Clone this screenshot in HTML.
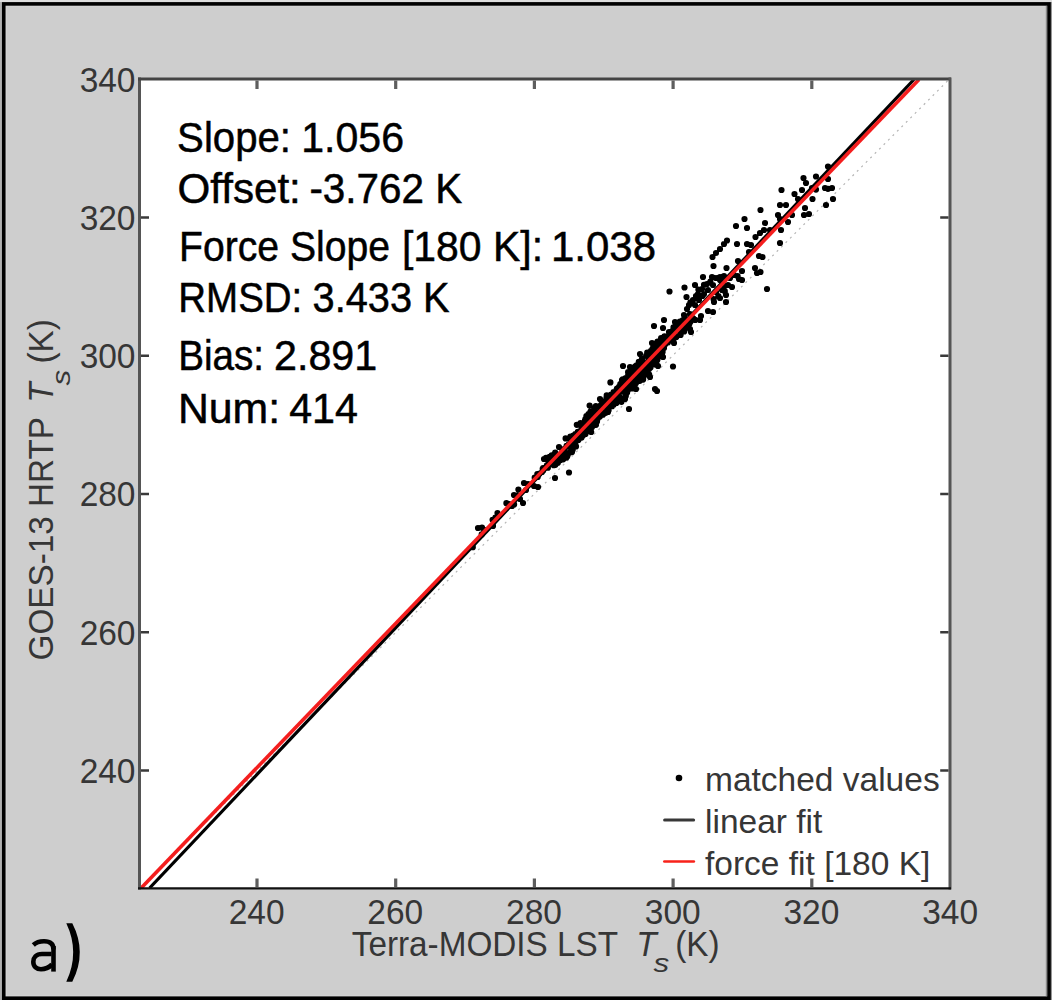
<!DOCTYPE html>
<html><head><meta charset="utf-8"><style>
html,body{margin:0;padding:0;background:#cecece;}
body{width:1052px;height:1000px;overflow:hidden;}
svg{display:block;}
text{font-family:"Liberation Sans",sans-serif;}
</style></head><body>
<svg width="1052" height="1000" viewBox="0 0 1052 1000">
<!-- page background -->
<rect x="0" y="0" width="1052" height="1000" fill="#dddddd"/>
<rect x="0" y="2" width="2" height="998" fill="#b0b0b0"/>
<rect x="1050.5" y="2" width="1.5" height="998" fill="#969696"/>
<rect x="2" y="2" width="1048.5" height="1000" fill="#cecece"/>
<rect x="6" y="6" width="1040" height="990" fill="none" stroke="#d8d8d8" stroke-width="1"/>
<!-- outer frame -->
<rect x="3.75" y="3.9" width="1045.3" height="994.3" fill="none" stroke="#000" stroke-width="3.6"/>
<line x1="1046.3" y1="6" x2="1046.3" y2="996" stroke="#777" stroke-width="1"/>
<!-- plot area -->
<rect x="139.5" y="79" width="810.5" height="809.5" fill="#fff"/>
<!-- 1:1 dotted -->
<line x1="139.5" y1="888.5" x2="949.5" y2="79" stroke="#b4b4b4" stroke-width="1.2" stroke-dasharray="2 4.3"/>
<!-- lines -->

<g fill="#000"><path d="M474.9 528.0a3.10 3.10 0 1 0 6.20 0a3.10 3.10 0 1 0 -6.20 0zM478.9 527.5a3.10 3.10 0 1 0 6.20 0a3.10 3.10 0 1 0 -6.20 0zM489.9 526.0a3.10 3.10 0 1 0 6.20 0a3.10 3.10 0 1 0 -6.20 0zM494.4 513.0a3.10 3.10 0 1 0 6.20 0a3.10 3.10 0 1 0 -6.20 0zM505.9 504.0a3.10 3.10 0 1 0 6.20 0a3.10 3.10 0 1 0 -6.20 0zM508.9 506.0a3.10 3.10 0 1 0 6.20 0a3.10 3.10 0 1 0 -6.20 0zM510.9 495.0a3.10 3.10 0 1 0 6.20 0a3.10 3.10 0 1 0 -6.20 0zM519.9 503.0a3.10 3.10 0 1 0 6.20 0a3.10 3.10 0 1 0 -6.20 0zM516.9 499.0a3.10 3.10 0 1 0 6.20 0a3.10 3.10 0 1 0 -6.20 0zM520.9 483.0a3.10 3.10 0 1 0 6.20 0a3.10 3.10 0 1 0 -6.20 0zM524.9 484.0a3.10 3.10 0 1 0 6.20 0a3.10 3.10 0 1 0 -6.20 0zM522.9 490.0a3.10 3.10 0 1 0 6.20 0a3.10 3.10 0 1 0 -6.20 0zM534.9 487.0a3.10 3.10 0 1 0 6.20 0a3.10 3.10 0 1 0 -6.20 0zM530.9 486.0a3.10 3.10 0 1 0 6.20 0a3.10 3.10 0 1 0 -6.20 0zM551.9 478.0a3.10 3.10 0 1 0 6.20 0a3.10 3.10 0 1 0 -6.20 0zM540.9 459.0a3.10 3.10 0 1 0 6.20 0a3.10 3.10 0 1 0 -6.20 0zM544.9 460.0a3.10 3.10 0 1 0 6.20 0a3.10 3.10 0 1 0 -6.20 0zM538.9 472.0a3.10 3.10 0 1 0 6.20 0a3.10 3.10 0 1 0 -6.20 0zM555.9 447.0a3.10 3.10 0 1 0 6.20 0a3.10 3.10 0 1 0 -6.20 0zM555.9 459.0a3.10 3.10 0 1 0 6.20 0a3.10 3.10 0 1 0 -6.20 0zM469.7 547.2a3.10 3.10 0 1 0 6.20 0a3.10 3.10 0 1 0 -6.20 0zM503.3 503.2a3.10 3.10 0 1 0 6.20 0a3.10 3.10 0 1 0 -6.20 0zM515.3 489.6a3.10 3.10 0 1 0 6.20 0a3.10 3.10 0 1 0 -6.20 0zM546.5 457.6a3.10 3.10 0 1 0 6.20 0a3.10 3.10 0 1 0 -6.20 0zM562.5 438.4a3.10 3.10 0 1 0 6.20 0a3.10 3.10 0 1 0 -6.20 0zM573.7 424.8a3.10 3.10 0 1 0 6.20 0a3.10 3.10 0 1 0 -6.20 0zM563.3 457.6a3.10 3.10 0 1 0 6.20 0a3.10 3.10 0 1 0 -6.20 0zM568.9 452.0a3.10 3.10 0 1 0 6.20 0a3.10 3.10 0 1 0 -6.20 0zM572.9 446.4a3.10 3.10 0 1 0 6.20 0a3.10 3.10 0 1 0 -6.20 0zM575.3 440.0a3.10 3.10 0 1 0 6.20 0a3.10 3.10 0 1 0 -6.20 0zM565.9 472.5a3.10 3.10 0 1 0 6.20 0a3.10 3.10 0 1 0 -6.20 0zM586.5 405.6a3.10 3.10 0 1 0 6.20 0a3.10 3.10 0 1 0 -6.20 0zM583.3 416.0a3.10 3.10 0 1 0 6.20 0a3.10 3.10 0 1 0 -6.20 0zM607.3 382.4a3.10 3.10 0 1 0 6.20 0a3.10 3.10 0 1 0 -6.20 0zM604.9 412.0a3.10 3.10 0 1 0 6.20 0a3.10 3.10 0 1 0 -6.20 0zM592.9 424.8a3.10 3.10 0 1 0 6.20 0a3.10 3.10 0 1 0 -6.20 0zM588.1 432.0a3.10 3.10 0 1 0 6.20 0a3.10 3.10 0 1 0 -6.20 0zM578.5 437.6a3.10 3.10 0 1 0 6.20 0a3.10 3.10 0 1 0 -6.20 0zM650.9 326.0a3.10 3.10 0 1 0 6.20 0a3.10 3.10 0 1 0 -6.20 0zM648.9 343.0a3.10 3.10 0 1 0 6.20 0a3.10 3.10 0 1 0 -6.20 0zM636.9 354.0a3.10 3.10 0 1 0 6.20 0a3.10 3.10 0 1 0 -6.20 0zM619.9 366.0a3.10 3.10 0 1 0 6.20 0a3.10 3.10 0 1 0 -6.20 0zM626.9 367.0a3.10 3.10 0 1 0 6.20 0a3.10 3.10 0 1 0 -6.20 0zM618.9 380.0a3.10 3.10 0 1 0 6.20 0a3.10 3.10 0 1 0 -6.20 0zM596.9 399.0a3.10 3.10 0 1 0 6.20 0a3.10 3.10 0 1 0 -6.20 0zM670.9 343.0a3.10 3.10 0 1 0 6.20 0a3.10 3.10 0 1 0 -6.20 0zM659.9 357.0a3.10 3.10 0 1 0 6.20 0a3.10 3.10 0 1 0 -6.20 0zM654.9 366.0a3.10 3.10 0 1 0 6.20 0a3.10 3.10 0 1 0 -6.20 0zM646.9 377.0a3.10 3.10 0 1 0 6.20 0a3.10 3.10 0 1 0 -6.20 0zM632.9 389.0a3.10 3.10 0 1 0 6.20 0a3.10 3.10 0 1 0 -6.20 0zM621.9 399.0a3.10 3.10 0 1 0 6.20 0a3.10 3.10 0 1 0 -6.20 0zM669.9 366.5a3.10 3.10 0 1 0 6.20 0a3.10 3.10 0 1 0 -6.20 0zM651.9 389.0a3.10 3.10 0 1 0 6.20 0a3.10 3.10 0 1 0 -6.20 0zM653.9 391.0a3.10 3.10 0 1 0 6.20 0a3.10 3.10 0 1 0 -6.20 0zM625.9 409.0a3.10 3.10 0 1 0 6.20 0a3.10 3.10 0 1 0 -6.20 0zM666.4 291.5a3.10 3.10 0 1 0 6.20 0a3.10 3.10 0 1 0 -6.20 0zM681.4 287.5a3.10 3.10 0 1 0 6.20 0a3.10 3.10 0 1 0 -6.20 0zM683.4 297.0a3.10 3.10 0 1 0 6.20 0a3.10 3.10 0 1 0 -6.20 0zM691.9 285.0a3.10 3.10 0 1 0 6.20 0a3.10 3.10 0 1 0 -6.20 0zM699.9 277.0a3.10 3.10 0 1 0 6.20 0a3.10 3.10 0 1 0 -6.20 0zM708.9 277.0a3.10 3.10 0 1 0 6.20 0a3.10 3.10 0 1 0 -6.20 0zM712.9 278.0a3.10 3.10 0 1 0 6.20 0a3.10 3.10 0 1 0 -6.20 0zM716.9 277.0a3.10 3.10 0 1 0 6.20 0a3.10 3.10 0 1 0 -6.20 0zM720.9 276.0a3.10 3.10 0 1 0 6.20 0a3.10 3.10 0 1 0 -6.20 0zM703.9 284.0a3.10 3.10 0 1 0 6.20 0a3.10 3.10 0 1 0 -6.20 0zM709.9 285.0a3.10 3.10 0 1 0 6.20 0a3.10 3.10 0 1 0 -6.20 0zM698.9 289.0a3.10 3.10 0 1 0 6.20 0a3.10 3.10 0 1 0 -6.20 0zM704.9 290.0a3.10 3.10 0 1 0 6.20 0a3.10 3.10 0 1 0 -6.20 0zM694.9 294.0a3.10 3.10 0 1 0 6.20 0a3.10 3.10 0 1 0 -6.20 0zM700.9 294.0a3.10 3.10 0 1 0 6.20 0a3.10 3.10 0 1 0 -6.20 0zM689.9 300.0a3.10 3.10 0 1 0 6.20 0a3.10 3.10 0 1 0 -6.20 0zM695.9 300.0a3.10 3.10 0 1 0 6.20 0a3.10 3.10 0 1 0 -6.20 0zM685.9 305.0a3.10 3.10 0 1 0 6.20 0a3.10 3.10 0 1 0 -6.20 0zM691.9 305.0a3.10 3.10 0 1 0 6.20 0a3.10 3.10 0 1 0 -6.20 0zM683.9 309.0a3.10 3.10 0 1 0 6.20 0a3.10 3.10 0 1 0 -6.20 0zM680.9 315.0a3.10 3.10 0 1 0 6.20 0a3.10 3.10 0 1 0 -6.20 0zM686.9 314.0a3.10 3.10 0 1 0 6.20 0a3.10 3.10 0 1 0 -6.20 0zM679.9 320.0a3.10 3.10 0 1 0 6.20 0a3.10 3.10 0 1 0 -6.20 0zM684.9 324.0a3.10 3.10 0 1 0 6.20 0a3.10 3.10 0 1 0 -6.20 0zM686.9 329.0a3.10 3.10 0 1 0 6.20 0a3.10 3.10 0 1 0 -6.20 0zM687.9 332.0a3.10 3.10 0 1 0 6.20 0a3.10 3.10 0 1 0 -6.20 0zM677.9 332.0a3.10 3.10 0 1 0 6.20 0a3.10 3.10 0 1 0 -6.20 0zM672.9 336.0a3.10 3.10 0 1 0 6.20 0a3.10 3.10 0 1 0 -6.20 0zM671.9 322.0a3.10 3.10 0 1 0 6.20 0a3.10 3.10 0 1 0 -6.20 0zM660.9 320.0a3.10 3.10 0 1 0 6.20 0a3.10 3.10 0 1 0 -6.20 0zM659.9 328.0a3.10 3.10 0 1 0 6.20 0a3.10 3.10 0 1 0 -6.20 0zM665.9 332.0a3.10 3.10 0 1 0 6.20 0a3.10 3.10 0 1 0 -6.20 0zM660.9 348.0a3.10 3.10 0 1 0 6.20 0a3.10 3.10 0 1 0 -6.20 0zM712.9 292.0a3.10 3.10 0 1 0 6.20 0a3.10 3.10 0 1 0 -6.20 0zM718.9 290.0a3.10 3.10 0 1 0 6.20 0a3.10 3.10 0 1 0 -6.20 0zM724.9 285.0a3.10 3.10 0 1 0 6.20 0a3.10 3.10 0 1 0 -6.20 0zM728.9 287.0a3.10 3.10 0 1 0 6.20 0a3.10 3.10 0 1 0 -6.20 0zM735.9 279.0a3.10 3.10 0 1 0 6.20 0a3.10 3.10 0 1 0 -6.20 0zM738.9 280.0a3.10 3.10 0 1 0 6.20 0a3.10 3.10 0 1 0 -6.20 0zM726.9 278.0a3.10 3.10 0 1 0 6.20 0a3.10 3.10 0 1 0 -6.20 0zM730.9 275.0a3.10 3.10 0 1 0 6.20 0a3.10 3.10 0 1 0 -6.20 0zM710.9 302.0a3.10 3.10 0 1 0 6.20 0a3.10 3.10 0 1 0 -6.20 0zM716.9 298.0a3.10 3.10 0 1 0 6.20 0a3.10 3.10 0 1 0 -6.20 0zM722.9 302.0a3.10 3.10 0 1 0 6.20 0a3.10 3.10 0 1 0 -6.20 0zM722.9 295.0a3.10 3.10 0 1 0 6.20 0a3.10 3.10 0 1 0 -6.20 0zM704.9 311.0a3.10 3.10 0 1 0 6.20 0a3.10 3.10 0 1 0 -6.20 0zM709.9 312.0a3.10 3.10 0 1 0 6.20 0a3.10 3.10 0 1 0 -6.20 0zM697.9 316.0a3.10 3.10 0 1 0 6.20 0a3.10 3.10 0 1 0 -6.20 0zM696.9 320.0a3.10 3.10 0 1 0 6.20 0a3.10 3.10 0 1 0 -6.20 0zM732.9 226.0a3.10 3.10 0 1 0 6.20 0a3.10 3.10 0 1 0 -6.20 0zM723.9 240.5a3.10 3.10 0 1 0 6.20 0a3.10 3.10 0 1 0 -6.20 0zM720.9 244.0a3.10 3.10 0 1 0 6.20 0a3.10 3.10 0 1 0 -6.20 0zM716.9 249.0a3.10 3.10 0 1 0 6.20 0a3.10 3.10 0 1 0 -6.20 0zM712.9 253.0a3.10 3.10 0 1 0 6.20 0a3.10 3.10 0 1 0 -6.20 0zM709.4 257.0a3.10 3.10 0 1 0 6.20 0a3.10 3.10 0 1 0 -6.20 0zM733.9 244.0a3.10 3.10 0 1 0 6.20 0a3.10 3.10 0 1 0 -6.20 0zM745.9 252.0a3.10 3.10 0 1 0 6.20 0a3.10 3.10 0 1 0 -6.20 0zM755.9 256.0a3.10 3.10 0 1 0 6.20 0a3.10 3.10 0 1 0 -6.20 0zM734.9 261.0a3.10 3.10 0 1 0 6.20 0a3.10 3.10 0 1 0 -6.20 0zM710.4 266.0a3.10 3.10 0 1 0 6.20 0a3.10 3.10 0 1 0 -6.20 0zM723.4 268.0a3.10 3.10 0 1 0 6.20 0a3.10 3.10 0 1 0 -6.20 0zM738.9 271.0a3.10 3.10 0 1 0 6.20 0a3.10 3.10 0 1 0 -6.20 0zM751.9 268.0a3.10 3.10 0 1 0 6.20 0a3.10 3.10 0 1 0 -6.20 0zM753.9 273.0a3.10 3.10 0 1 0 6.20 0a3.10 3.10 0 1 0 -6.20 0zM759.4 257.0a3.10 3.10 0 1 0 6.20 0a3.10 3.10 0 1 0 -6.20 0zM757.4 272.0a3.10 3.10 0 1 0 6.20 0a3.10 3.10 0 1 0 -6.20 0zM763.9 289.0a3.10 3.10 0 1 0 6.20 0a3.10 3.10 0 1 0 -6.20 0zM778.4 190.0a3.10 3.10 0 1 0 6.20 0a3.10 3.10 0 1 0 -6.20 0zM757.4 210.0a3.10 3.10 0 1 0 6.20 0a3.10 3.10 0 1 0 -6.20 0zM741.4 219.0a3.10 3.10 0 1 0 6.20 0a3.10 3.10 0 1 0 -6.20 0zM743.9 228.0a3.10 3.10 0 1 0 6.20 0a3.10 3.10 0 1 0 -6.20 0zM752.4 237.0a3.10 3.10 0 1 0 6.20 0a3.10 3.10 0 1 0 -6.20 0zM743.9 244.0a3.10 3.10 0 1 0 6.20 0a3.10 3.10 0 1 0 -6.20 0zM747.9 245.0a3.10 3.10 0 1 0 6.20 0a3.10 3.10 0 1 0 -6.20 0zM776.9 243.0a3.10 3.10 0 1 0 6.20 0a3.10 3.10 0 1 0 -6.20 0zM800.4 178.0a3.10 3.10 0 1 0 6.20 0a3.10 3.10 0 1 0 -6.20 0zM802.9 183.0a3.10 3.10 0 1 0 6.20 0a3.10 3.10 0 1 0 -6.20 0zM812.9 176.5a3.10 3.10 0 1 0 6.20 0a3.10 3.10 0 1 0 -6.20 0zM824.9 166.5a3.10 3.10 0 1 0 6.20 0a3.10 3.10 0 1 0 -6.20 0zM824.9 179.0a3.10 3.10 0 1 0 6.20 0a3.10 3.10 0 1 0 -6.20 0zM821.9 188.0a3.10 3.10 0 1 0 6.20 0a3.10 3.10 0 1 0 -6.20 0zM828.9 188.0a3.10 3.10 0 1 0 6.20 0a3.10 3.10 0 1 0 -6.20 0zM829.9 199.0a3.10 3.10 0 1 0 6.20 0a3.10 3.10 0 1 0 -6.20 0zM822.9 205.0a3.10 3.10 0 1 0 6.20 0a3.10 3.10 0 1 0 -6.20 0zM809.4 199.0a3.10 3.10 0 1 0 6.20 0a3.10 3.10 0 1 0 -6.20 0zM798.9 190.0a3.10 3.10 0 1 0 6.20 0a3.10 3.10 0 1 0 -6.20 0zM791.4 194.0a3.10 3.10 0 1 0 6.20 0a3.10 3.10 0 1 0 -6.20 0zM794.9 199.0a3.10 3.10 0 1 0 6.20 0a3.10 3.10 0 1 0 -6.20 0zM776.9 205.0a3.10 3.10 0 1 0 6.20 0a3.10 3.10 0 1 0 -6.20 0zM782.9 205.0a3.10 3.10 0 1 0 6.20 0a3.10 3.10 0 1 0 -6.20 0zM801.9 208.0a3.10 3.10 0 1 0 6.20 0a3.10 3.10 0 1 0 -6.20 0zM800.9 215.0a3.10 3.10 0 1 0 6.20 0a3.10 3.10 0 1 0 -6.20 0zM805.9 214.0a3.10 3.10 0 1 0 6.20 0a3.10 3.10 0 1 0 -6.20 0zM774.9 215.0a3.10 3.10 0 1 0 6.20 0a3.10 3.10 0 1 0 -6.20 0zM776.9 219.0a3.10 3.10 0 1 0 6.20 0a3.10 3.10 0 1 0 -6.20 0zM784.9 222.0a3.10 3.10 0 1 0 6.20 0a3.10 3.10 0 1 0 -6.20 0zM761.9 223.0a3.10 3.10 0 1 0 6.20 0a3.10 3.10 0 1 0 -6.20 0zM760.9 230.0a3.10 3.10 0 1 0 6.20 0a3.10 3.10 0 1 0 -6.20 0zM766.9 230.0a3.10 3.10 0 1 0 6.20 0a3.10 3.10 0 1 0 -6.20 0zM777.9 230.0a3.10 3.10 0 1 0 6.20 0a3.10 3.10 0 1 0 -6.20 0zM756.9 233.0a3.10 3.10 0 1 0 6.20 0a3.10 3.10 0 1 0 -6.20 0zM808.9 188.0a3.10 3.10 0 1 0 6.20 0a3.10 3.10 0 1 0 -6.20 0zM788.9 215.0a3.10 3.10 0 1 0 6.20 0a3.10 3.10 0 1 0 -6.20 0zM824.9 188.8a3.10 3.10 0 1 0 6.20 0a3.10 3.10 0 1 0 -6.20 0zM812.9 189.6a3.10 3.10 0 1 0 6.20 0a3.10 3.10 0 1 0 -6.20 0zM707.3 281.6a3.10 3.10 0 1 0 6.20 0a3.10 3.10 0 1 0 -6.20 0zM700.9 284.8a3.10 3.10 0 1 0 6.20 0a3.10 3.10 0 1 0 -6.20 0zM695.3 289.6a3.10 3.10 0 1 0 6.20 0a3.10 3.10 0 1 0 -6.20 0zM692.9 296.0a3.10 3.10 0 1 0 6.20 0a3.10 3.10 0 1 0 -6.20 0zM699.3 296.0a3.10 3.10 0 1 0 6.20 0a3.10 3.10 0 1 0 -6.20 0zM687.3 302.4a3.10 3.10 0 1 0 6.20 0a3.10 3.10 0 1 0 -6.20 0zM716.9 280.0a3.10 3.10 0 1 0 6.20 0a3.10 3.10 0 1 0 -6.20 0zM721.7 285.6a3.10 3.10 0 1 0 6.20 0a3.10 3.10 0 1 0 -6.20 0zM721.7 291.2a3.10 3.10 0 1 0 6.20 0a3.10 3.10 0 1 0 -6.20 0zM710.5 299.2a3.10 3.10 0 1 0 6.20 0a3.10 3.10 0 1 0 -6.20 0zM715.3 296.0a3.10 3.10 0 1 0 6.20 0a3.10 3.10 0 1 0 -6.20 0zM734.5 276.0a3.10 3.10 0 1 0 6.20 0a3.10 3.10 0 1 0 -6.20 0zM478.6 534.4a3.10 3.10 0 1 0 6.20 0a3.10 3.10 0 1 0 -6.20 0zM481.0 529.9a3.10 3.10 0 1 0 6.20 0a3.10 3.10 0 1 0 -6.20 0zM489.9 525.9a3.10 3.10 0 1 0 6.20 0a3.10 3.10 0 1 0 -6.20 0zM489.5 519.8a3.10 3.10 0 1 0 6.20 0a3.10 3.10 0 1 0 -6.20 0zM492.3 517.6a3.10 3.10 0 1 0 6.20 0a3.10 3.10 0 1 0 -6.20 0zM495.6 516.1a3.10 3.10 0 1 0 6.20 0a3.10 3.10 0 1 0 -6.20 0zM511.0 504.4a3.10 3.10 0 1 0 6.20 0a3.10 3.10 0 1 0 -6.20 0zM513.7 495.7a3.10 3.10 0 1 0 6.20 0a3.10 3.10 0 1 0 -6.20 0zM525.4 484.5a3.10 3.10 0 1 0 6.20 0a3.10 3.10 0 1 0 -6.20 0zM531.6 477.7a3.10 3.10 0 1 0 6.20 0a3.10 3.10 0 1 0 -6.20 0zM534.6 477.0a3.10 3.10 0 1 0 6.20 0a3.10 3.10 0 1 0 -6.20 0zM534.2 474.1a3.10 3.10 0 1 0 6.20 0a3.10 3.10 0 1 0 -6.20 0zM536.3 473.7a3.10 3.10 0 1 0 6.20 0a3.10 3.10 0 1 0 -6.20 0zM540.1 470.6a3.10 3.10 0 1 0 6.20 0a3.10 3.10 0 1 0 -6.20 0zM539.6 468.8a3.10 3.10 0 1 0 6.20 0a3.10 3.10 0 1 0 -6.20 0zM540.0 468.1a3.10 3.10 0 1 0 6.20 0a3.10 3.10 0 1 0 -6.20 0zM544.8 467.7a3.10 3.10 0 1 0 6.20 0a3.10 3.10 0 1 0 -6.20 0zM543.8 465.3a3.10 3.10 0 1 0 6.20 0a3.10 3.10 0 1 0 -6.20 0zM550.6 465.2a3.10 3.10 0 1 0 6.20 0a3.10 3.10 0 1 0 -6.20 0zM545.4 463.4a3.10 3.10 0 1 0 6.20 0a3.10 3.10 0 1 0 -6.20 0zM548.7 463.5a3.10 3.10 0 1 0 6.20 0a3.10 3.10 0 1 0 -6.20 0zM552.3 464.8a3.10 3.10 0 1 0 6.20 0a3.10 3.10 0 1 0 -6.20 0zM546.7 461.9a3.10 3.10 0 1 0 6.20 0a3.10 3.10 0 1 0 -6.20 0zM552.2 461.7a3.10 3.10 0 1 0 6.20 0a3.10 3.10 0 1 0 -6.20 0zM554.8 462.8a3.10 3.10 0 1 0 6.20 0a3.10 3.10 0 1 0 -6.20 0zM545.4 459.8a3.10 3.10 0 1 0 6.20 0a3.10 3.10 0 1 0 -6.20 0zM551.4 459.9a3.10 3.10 0 1 0 6.20 0a3.10 3.10 0 1 0 -6.20 0zM552.6 460.8a3.10 3.10 0 1 0 6.20 0a3.10 3.10 0 1 0 -6.20 0zM557.4 460.1a3.10 3.10 0 1 0 6.20 0a3.10 3.10 0 1 0 -6.20 0zM542.9 457.9a3.10 3.10 0 1 0 6.20 0a3.10 3.10 0 1 0 -6.20 0zM550.6 458.2a3.10 3.10 0 1 0 6.20 0a3.10 3.10 0 1 0 -6.20 0zM555.8 458.4a3.10 3.10 0 1 0 6.20 0a3.10 3.10 0 1 0 -6.20 0zM560.1 459.3a3.10 3.10 0 1 0 6.20 0a3.10 3.10 0 1 0 -6.20 0zM546.5 456.9a3.10 3.10 0 1 0 6.20 0a3.10 3.10 0 1 0 -6.20 0zM553.8 456.3a3.10 3.10 0 1 0 6.20 0a3.10 3.10 0 1 0 -6.20 0zM555.3 457.5a3.10 3.10 0 1 0 6.20 0a3.10 3.10 0 1 0 -6.20 0zM564.1 456.4a3.10 3.10 0 1 0 6.20 0a3.10 3.10 0 1 0 -6.20 0zM548.6 455.4a3.10 3.10 0 1 0 6.20 0a3.10 3.10 0 1 0 -6.20 0zM556.8 454.5a3.10 3.10 0 1 0 6.20 0a3.10 3.10 0 1 0 -6.20 0zM561.6 455.6a3.10 3.10 0 1 0 6.20 0a3.10 3.10 0 1 0 -6.20 0zM564.6 454.9a3.10 3.10 0 1 0 6.20 0a3.10 3.10 0 1 0 -6.20 0zM552.1 452.5a3.10 3.10 0 1 0 6.20 0a3.10 3.10 0 1 0 -6.20 0zM562.3 452.8a3.10 3.10 0 1 0 6.20 0a3.10 3.10 0 1 0 -6.20 0zM566.4 452.8a3.10 3.10 0 1 0 6.20 0a3.10 3.10 0 1 0 -6.20 0zM559.2 451.6a3.10 3.10 0 1 0 6.20 0a3.10 3.10 0 1 0 -6.20 0zM561.4 450.9a3.10 3.10 0 1 0 6.20 0a3.10 3.10 0 1 0 -6.20 0zM568.1 450.7a3.10 3.10 0 1 0 6.20 0a3.10 3.10 0 1 0 -6.20 0zM559.6 449.7a3.10 3.10 0 1 0 6.20 0a3.10 3.10 0 1 0 -6.20 0zM569.6 449.8a3.10 3.10 0 1 0 6.20 0a3.10 3.10 0 1 0 -6.20 0zM561.7 448.5a3.10 3.10 0 1 0 6.20 0a3.10 3.10 0 1 0 -6.20 0zM566.9 447.0a3.10 3.10 0 1 0 6.20 0a3.10 3.10 0 1 0 -6.20 0zM563.5 445.9a3.10 3.10 0 1 0 6.20 0a3.10 3.10 0 1 0 -6.20 0zM567.4 445.5a3.10 3.10 0 1 0 6.20 0a3.10 3.10 0 1 0 -6.20 0zM565.7 444.3a3.10 3.10 0 1 0 6.20 0a3.10 3.10 0 1 0 -6.20 0zM569.0 444.0a3.10 3.10 0 1 0 6.20 0a3.10 3.10 0 1 0 -6.20 0zM568.8 443.2a3.10 3.10 0 1 0 6.20 0a3.10 3.10 0 1 0 -6.20 0zM572.3 442.7a3.10 3.10 0 1 0 6.20 0a3.10 3.10 0 1 0 -6.20 0zM567.6 440.0a3.10 3.10 0 1 0 6.20 0a3.10 3.10 0 1 0 -6.20 0zM570.1 439.8a3.10 3.10 0 1 0 6.20 0a3.10 3.10 0 1 0 -6.20 0zM568.0 439.1a3.10 3.10 0 1 0 6.20 0a3.10 3.10 0 1 0 -6.20 0zM572.4 438.0a3.10 3.10 0 1 0 6.20 0a3.10 3.10 0 1 0 -6.20 0zM575.3 438.8a3.10 3.10 0 1 0 6.20 0a3.10 3.10 0 1 0 -6.20 0zM567.3 436.7a3.10 3.10 0 1 0 6.20 0a3.10 3.10 0 1 0 -6.20 0zM573.5 436.3a3.10 3.10 0 1 0 6.20 0a3.10 3.10 0 1 0 -6.20 0zM576.1 437.4a3.10 3.10 0 1 0 6.20 0a3.10 3.10 0 1 0 -6.20 0zM570.3 435.6a3.10 3.10 0 1 0 6.20 0a3.10 3.10 0 1 0 -6.20 0zM574.3 435.7a3.10 3.10 0 1 0 6.20 0a3.10 3.10 0 1 0 -6.20 0zM580.3 435.0a3.10 3.10 0 1 0 6.20 0a3.10 3.10 0 1 0 -6.20 0zM572.2 434.0a3.10 3.10 0 1 0 6.20 0a3.10 3.10 0 1 0 -6.20 0zM578.0 433.3a3.10 3.10 0 1 0 6.20 0a3.10 3.10 0 1 0 -6.20 0zM582.4 434.0a3.10 3.10 0 1 0 6.20 0a3.10 3.10 0 1 0 -6.20 0zM574.7 431.8a3.10 3.10 0 1 0 6.20 0a3.10 3.10 0 1 0 -6.20 0zM578.5 431.7a3.10 3.10 0 1 0 6.20 0a3.10 3.10 0 1 0 -6.20 0zM584.4 430.9a3.10 3.10 0 1 0 6.20 0a3.10 3.10 0 1 0 -6.20 0zM577.9 430.6a3.10 3.10 0 1 0 6.20 0a3.10 3.10 0 1 0 -6.20 0zM583.7 430.2a3.10 3.10 0 1 0 6.20 0a3.10 3.10 0 1 0 -6.20 0zM586.1 430.2a3.10 3.10 0 1 0 6.20 0a3.10 3.10 0 1 0 -6.20 0zM578.5 427.9a3.10 3.10 0 1 0 6.20 0a3.10 3.10 0 1 0 -6.20 0zM584.4 427.3a3.10 3.10 0 1 0 6.20 0a3.10 3.10 0 1 0 -6.20 0zM588.8 427.2a3.10 3.10 0 1 0 6.20 0a3.10 3.10 0 1 0 -6.20 0zM578.9 426.2a3.10 3.10 0 1 0 6.20 0a3.10 3.10 0 1 0 -6.20 0zM582.0 426.5a3.10 3.10 0 1 0 6.20 0a3.10 3.10 0 1 0 -6.20 0zM588.1 426.4a3.10 3.10 0 1 0 6.20 0a3.10 3.10 0 1 0 -6.20 0zM580.9 424.0a3.10 3.10 0 1 0 6.20 0a3.10 3.10 0 1 0 -6.20 0zM581.3 424.1a3.10 3.10 0 1 0 6.20 0a3.10 3.10 0 1 0 -6.20 0zM589.6 423.9a3.10 3.10 0 1 0 6.20 0a3.10 3.10 0 1 0 -6.20 0zM577.4 423.2a3.10 3.10 0 1 0 6.20 0a3.10 3.10 0 1 0 -6.20 0zM585.0 422.5a3.10 3.10 0 1 0 6.20 0a3.10 3.10 0 1 0 -6.20 0zM591.2 422.3a3.10 3.10 0 1 0 6.20 0a3.10 3.10 0 1 0 -6.20 0zM581.9 420.3a3.10 3.10 0 1 0 6.20 0a3.10 3.10 0 1 0 -6.20 0zM586.0 421.3a3.10 3.10 0 1 0 6.20 0a3.10 3.10 0 1 0 -6.20 0zM593.9 421.4a3.10 3.10 0 1 0 6.20 0a3.10 3.10 0 1 0 -6.20 0zM582.3 419.1a3.10 3.10 0 1 0 6.20 0a3.10 3.10 0 1 0 -6.20 0zM587.5 418.4a3.10 3.10 0 1 0 6.20 0a3.10 3.10 0 1 0 -6.20 0zM594.2 419.5a3.10 3.10 0 1 0 6.20 0a3.10 3.10 0 1 0 -6.20 0zM585.7 417.5a3.10 3.10 0 1 0 6.20 0a3.10 3.10 0 1 0 -6.20 0zM590.6 416.8a3.10 3.10 0 1 0 6.20 0a3.10 3.10 0 1 0 -6.20 0zM591.6 417.1a3.10 3.10 0 1 0 6.20 0a3.10 3.10 0 1 0 -6.20 0zM596.5 416.7a3.10 3.10 0 1 0 6.20 0a3.10 3.10 0 1 0 -6.20 0zM585.6 415.6a3.10 3.10 0 1 0 6.20 0a3.10 3.10 0 1 0 -6.20 0zM590.7 415.1a3.10 3.10 0 1 0 6.20 0a3.10 3.10 0 1 0 -6.20 0zM597.0 416.2a3.10 3.10 0 1 0 6.20 0a3.10 3.10 0 1 0 -6.20 0zM599.8 414.7a3.10 3.10 0 1 0 6.20 0a3.10 3.10 0 1 0 -6.20 0zM585.4 414.2a3.10 3.10 0 1 0 6.20 0a3.10 3.10 0 1 0 -6.20 0zM590.0 413.9a3.10 3.10 0 1 0 6.20 0a3.10 3.10 0 1 0 -6.20 0zM597.0 413.3a3.10 3.10 0 1 0 6.20 0a3.10 3.10 0 1 0 -6.20 0zM602.6 412.8a3.10 3.10 0 1 0 6.20 0a3.10 3.10 0 1 0 -6.20 0zM587.4 411.7a3.10 3.10 0 1 0 6.20 0a3.10 3.10 0 1 0 -6.20 0zM591.4 412.3a3.10 3.10 0 1 0 6.20 0a3.10 3.10 0 1 0 -6.20 0zM596.8 411.2a3.10 3.10 0 1 0 6.20 0a3.10 3.10 0 1 0 -6.20 0zM600.4 412.0a3.10 3.10 0 1 0 6.20 0a3.10 3.10 0 1 0 -6.20 0zM591.0 410.2a3.10 3.10 0 1 0 6.20 0a3.10 3.10 0 1 0 -6.20 0zM598.0 410.5a3.10 3.10 0 1 0 6.20 0a3.10 3.10 0 1 0 -6.20 0zM605.5 410.3a3.10 3.10 0 1 0 6.20 0a3.10 3.10 0 1 0 -6.20 0zM591.2 408.2a3.10 3.10 0 1 0 6.20 0a3.10 3.10 0 1 0 -6.20 0zM596.8 407.4a3.10 3.10 0 1 0 6.20 0a3.10 3.10 0 1 0 -6.20 0zM604.2 408.5a3.10 3.10 0 1 0 6.20 0a3.10 3.10 0 1 0 -6.20 0zM592.8 406.0a3.10 3.10 0 1 0 6.20 0a3.10 3.10 0 1 0 -6.20 0zM598.1 406.7a3.10 3.10 0 1 0 6.20 0a3.10 3.10 0 1 0 -6.20 0zM603.4 406.6a3.10 3.10 0 1 0 6.20 0a3.10 3.10 0 1 0 -6.20 0zM609.0 406.2a3.10 3.10 0 1 0 6.20 0a3.10 3.10 0 1 0 -6.20 0zM597.8 405.2a3.10 3.10 0 1 0 6.20 0a3.10 3.10 0 1 0 -6.20 0zM599.2 405.3a3.10 3.10 0 1 0 6.20 0a3.10 3.10 0 1 0 -6.20 0zM607.0 404.0a3.10 3.10 0 1 0 6.20 0a3.10 3.10 0 1 0 -6.20 0zM610.5 404.8a3.10 3.10 0 1 0 6.20 0a3.10 3.10 0 1 0 -6.20 0zM600.5 402.6a3.10 3.10 0 1 0 6.20 0a3.10 3.10 0 1 0 -6.20 0zM603.8 403.4a3.10 3.10 0 1 0 6.20 0a3.10 3.10 0 1 0 -6.20 0zM610.0 403.5a3.10 3.10 0 1 0 6.20 0a3.10 3.10 0 1 0 -6.20 0zM613.3 403.0a3.10 3.10 0 1 0 6.20 0a3.10 3.10 0 1 0 -6.20 0zM599.0 401.4a3.10 3.10 0 1 0 6.20 0a3.10 3.10 0 1 0 -6.20 0zM607.5 401.2a3.10 3.10 0 1 0 6.20 0a3.10 3.10 0 1 0 -6.20 0zM612.2 400.5a3.10 3.10 0 1 0 6.20 0a3.10 3.10 0 1 0 -6.20 0zM618.4 401.8a3.10 3.10 0 1 0 6.20 0a3.10 3.10 0 1 0 -6.20 0zM604.7 399.3a3.10 3.10 0 1 0 6.20 0a3.10 3.10 0 1 0 -6.20 0zM609.0 398.9a3.10 3.10 0 1 0 6.20 0a3.10 3.10 0 1 0 -6.20 0zM614.9 399.8a3.10 3.10 0 1 0 6.20 0a3.10 3.10 0 1 0 -6.20 0zM617.2 398.5a3.10 3.10 0 1 0 6.20 0a3.10 3.10 0 1 0 -6.20 0zM603.4 397.5a3.10 3.10 0 1 0 6.20 0a3.10 3.10 0 1 0 -6.20 0zM610.5 397.4a3.10 3.10 0 1 0 6.20 0a3.10 3.10 0 1 0 -6.20 0zM611.9 397.9a3.10 3.10 0 1 0 6.20 0a3.10 3.10 0 1 0 -6.20 0zM617.4 397.9a3.10 3.10 0 1 0 6.20 0a3.10 3.10 0 1 0 -6.20 0zM603.6 395.3a3.10 3.10 0 1 0 6.20 0a3.10 3.10 0 1 0 -6.20 0zM612.3 395.0a3.10 3.10 0 1 0 6.20 0a3.10 3.10 0 1 0 -6.20 0zM614.2 395.6a3.10 3.10 0 1 0 6.20 0a3.10 3.10 0 1 0 -6.20 0zM622.7 396.1a3.10 3.10 0 1 0 6.20 0a3.10 3.10 0 1 0 -6.20 0zM608.1 394.5a3.10 3.10 0 1 0 6.20 0a3.10 3.10 0 1 0 -6.20 0zM612.4 394.5a3.10 3.10 0 1 0 6.20 0a3.10 3.10 0 1 0 -6.20 0zM615.6 393.4a3.10 3.10 0 1 0 6.20 0a3.10 3.10 0 1 0 -6.20 0zM623.3 393.5a3.10 3.10 0 1 0 6.20 0a3.10 3.10 0 1 0 -6.20 0zM610.5 392.2a3.10 3.10 0 1 0 6.20 0a3.10 3.10 0 1 0 -6.20 0zM614.5 392.5a3.10 3.10 0 1 0 6.20 0a3.10 3.10 0 1 0 -6.20 0zM619.8 391.7a3.10 3.10 0 1 0 6.20 0a3.10 3.10 0 1 0 -6.20 0zM624.0 392.6a3.10 3.10 0 1 0 6.20 0a3.10 3.10 0 1 0 -6.20 0zM613.5 389.7a3.10 3.10 0 1 0 6.20 0a3.10 3.10 0 1 0 -6.20 0zM618.1 390.9a3.10 3.10 0 1 0 6.20 0a3.10 3.10 0 1 0 -6.20 0zM621.4 390.3a3.10 3.10 0 1 0 6.20 0a3.10 3.10 0 1 0 -6.20 0zM624.7 390.3a3.10 3.10 0 1 0 6.20 0a3.10 3.10 0 1 0 -6.20 0zM613.9 388.6a3.10 3.10 0 1 0 6.20 0a3.10 3.10 0 1 0 -6.20 0zM616.3 389.2a3.10 3.10 0 1 0 6.20 0a3.10 3.10 0 1 0 -6.20 0zM623.1 388.2a3.10 3.10 0 1 0 6.20 0a3.10 3.10 0 1 0 -6.20 0zM629.0 388.5a3.10 3.10 0 1 0 6.20 0a3.10 3.10 0 1 0 -6.20 0zM615.9 386.9a3.10 3.10 0 1 0 6.20 0a3.10 3.10 0 1 0 -6.20 0zM618.5 386.7a3.10 3.10 0 1 0 6.20 0a3.10 3.10 0 1 0 -6.20 0zM624.5 387.3a3.10 3.10 0 1 0 6.20 0a3.10 3.10 0 1 0 -6.20 0zM631.3 386.2a3.10 3.10 0 1 0 6.20 0a3.10 3.10 0 1 0 -6.20 0zM617.2 384.2a3.10 3.10 0 1 0 6.20 0a3.10 3.10 0 1 0 -6.20 0zM621.8 385.3a3.10 3.10 0 1 0 6.20 0a3.10 3.10 0 1 0 -6.20 0zM628.9 384.8a3.10 3.10 0 1 0 6.20 0a3.10 3.10 0 1 0 -6.20 0zM630.9 384.3a3.10 3.10 0 1 0 6.20 0a3.10 3.10 0 1 0 -6.20 0zM619.3 383.7a3.10 3.10 0 1 0 6.20 0a3.10 3.10 0 1 0 -6.20 0zM622.0 383.4a3.10 3.10 0 1 0 6.20 0a3.10 3.10 0 1 0 -6.20 0zM626.6 382.5a3.10 3.10 0 1 0 6.20 0a3.10 3.10 0 1 0 -6.20 0zM632.8 383.3a3.10 3.10 0 1 0 6.20 0a3.10 3.10 0 1 0 -6.20 0zM619.1 381.0a3.10 3.10 0 1 0 6.20 0a3.10 3.10 0 1 0 -6.20 0zM626.3 380.6a3.10 3.10 0 1 0 6.20 0a3.10 3.10 0 1 0 -6.20 0zM632.4 380.6a3.10 3.10 0 1 0 6.20 0a3.10 3.10 0 1 0 -6.20 0zM636.7 380.8a3.10 3.10 0 1 0 6.20 0a3.10 3.10 0 1 0 -6.20 0zM619.6 379.4a3.10 3.10 0 1 0 6.20 0a3.10 3.10 0 1 0 -6.20 0zM625.3 379.2a3.10 3.10 0 1 0 6.20 0a3.10 3.10 0 1 0 -6.20 0zM629.8 379.4a3.10 3.10 0 1 0 6.20 0a3.10 3.10 0 1 0 -6.20 0zM633.2 378.9a3.10 3.10 0 1 0 6.20 0a3.10 3.10 0 1 0 -6.20 0zM640.0 379.6a3.10 3.10 0 1 0 6.20 0a3.10 3.10 0 1 0 -6.20 0zM622.6 378.2a3.10 3.10 0 1 0 6.20 0a3.10 3.10 0 1 0 -6.20 0zM627.6 378.2a3.10 3.10 0 1 0 6.20 0a3.10 3.10 0 1 0 -6.20 0zM630.5 378.0a3.10 3.10 0 1 0 6.20 0a3.10 3.10 0 1 0 -6.20 0zM637.8 378.2a3.10 3.10 0 1 0 6.20 0a3.10 3.10 0 1 0 -6.20 0zM640.2 377.3a3.10 3.10 0 1 0 6.20 0a3.10 3.10 0 1 0 -6.20 0zM625.9 375.3a3.10 3.10 0 1 0 6.20 0a3.10 3.10 0 1 0 -6.20 0zM630.9 376.4a3.10 3.10 0 1 0 6.20 0a3.10 3.10 0 1 0 -6.20 0zM631.6 375.4a3.10 3.10 0 1 0 6.20 0a3.10 3.10 0 1 0 -6.20 0zM639.0 375.4a3.10 3.10 0 1 0 6.20 0a3.10 3.10 0 1 0 -6.20 0zM640.7 376.3a3.10 3.10 0 1 0 6.20 0a3.10 3.10 0 1 0 -6.20 0zM625.1 374.5a3.10 3.10 0 1 0 6.20 0a3.10 3.10 0 1 0 -6.20 0zM628.4 373.8a3.10 3.10 0 1 0 6.20 0a3.10 3.10 0 1 0 -6.20 0zM635.7 373.2a3.10 3.10 0 1 0 6.20 0a3.10 3.10 0 1 0 -6.20 0zM638.1 374.3a3.10 3.10 0 1 0 6.20 0a3.10 3.10 0 1 0 -6.20 0zM646.1 374.7a3.10 3.10 0 1 0 6.20 0a3.10 3.10 0 1 0 -6.20 0zM625.0 372.2a3.10 3.10 0 1 0 6.20 0a3.10 3.10 0 1 0 -6.20 0zM632.8 372.2a3.10 3.10 0 1 0 6.20 0a3.10 3.10 0 1 0 -6.20 0zM637.1 371.7a3.10 3.10 0 1 0 6.20 0a3.10 3.10 0 1 0 -6.20 0zM638.9 371.6a3.10 3.10 0 1 0 6.20 0a3.10 3.10 0 1 0 -6.20 0zM643.5 372.3a3.10 3.10 0 1 0 6.20 0a3.10 3.10 0 1 0 -6.20 0zM628.1 370.5a3.10 3.10 0 1 0 6.20 0a3.10 3.10 0 1 0 -6.20 0zM631.1 369.9a3.10 3.10 0 1 0 6.20 0a3.10 3.10 0 1 0 -6.20 0zM636.1 370.9a3.10 3.10 0 1 0 6.20 0a3.10 3.10 0 1 0 -6.20 0zM644.6 371.1a3.10 3.10 0 1 0 6.20 0a3.10 3.10 0 1 0 -6.20 0zM645.1 369.7a3.10 3.10 0 1 0 6.20 0a3.10 3.10 0 1 0 -6.20 0zM631.4 368.5a3.10 3.10 0 1 0 6.20 0a3.10 3.10 0 1 0 -6.20 0zM635.3 368.3a3.10 3.10 0 1 0 6.20 0a3.10 3.10 0 1 0 -6.20 0zM638.7 368.6a3.10 3.10 0 1 0 6.20 0a3.10 3.10 0 1 0 -6.20 0zM643.2 368.8a3.10 3.10 0 1 0 6.20 0a3.10 3.10 0 1 0 -6.20 0zM646.0 368.9a3.10 3.10 0 1 0 6.20 0a3.10 3.10 0 1 0 -6.20 0zM632.2 366.3a3.10 3.10 0 1 0 6.20 0a3.10 3.10 0 1 0 -6.20 0zM635.1 367.2a3.10 3.10 0 1 0 6.20 0a3.10 3.10 0 1 0 -6.20 0zM639.7 366.3a3.10 3.10 0 1 0 6.20 0a3.10 3.10 0 1 0 -6.20 0zM643.3 366.8a3.10 3.10 0 1 0 6.20 0a3.10 3.10 0 1 0 -6.20 0zM647.4 367.4a3.10 3.10 0 1 0 6.20 0a3.10 3.10 0 1 0 -6.20 0zM633.5 365.3a3.10 3.10 0 1 0 6.20 0a3.10 3.10 0 1 0 -6.20 0zM638.5 365.2a3.10 3.10 0 1 0 6.20 0a3.10 3.10 0 1 0 -6.20 0zM641.1 365.2a3.10 3.10 0 1 0 6.20 0a3.10 3.10 0 1 0 -6.20 0zM646.2 365.8a3.10 3.10 0 1 0 6.20 0a3.10 3.10 0 1 0 -6.20 0zM652.4 364.6a3.10 3.10 0 1 0 6.20 0a3.10 3.10 0 1 0 -6.20 0zM635.8 363.6a3.10 3.10 0 1 0 6.20 0a3.10 3.10 0 1 0 -6.20 0zM639.7 363.7a3.10 3.10 0 1 0 6.20 0a3.10 3.10 0 1 0 -6.20 0zM642.6 363.8a3.10 3.10 0 1 0 6.20 0a3.10 3.10 0 1 0 -6.20 0zM649.3 363.5a3.10 3.10 0 1 0 6.20 0a3.10 3.10 0 1 0 -6.20 0zM653.3 363.6a3.10 3.10 0 1 0 6.20 0a3.10 3.10 0 1 0 -6.20 0zM635.7 361.8a3.10 3.10 0 1 0 6.20 0a3.10 3.10 0 1 0 -6.20 0zM639.4 361.1a3.10 3.10 0 1 0 6.20 0a3.10 3.10 0 1 0 -6.20 0zM647.1 360.6a3.10 3.10 0 1 0 6.20 0a3.10 3.10 0 1 0 -6.20 0zM651.9 361.6a3.10 3.10 0 1 0 6.20 0a3.10 3.10 0 1 0 -6.20 0zM638.7 359.2a3.10 3.10 0 1 0 6.20 0a3.10 3.10 0 1 0 -6.20 0zM645.7 359.9a3.10 3.10 0 1 0 6.20 0a3.10 3.10 0 1 0 -6.20 0zM647.8 359.9a3.10 3.10 0 1 0 6.20 0a3.10 3.10 0 1 0 -6.20 0zM654.3 359.7a3.10 3.10 0 1 0 6.20 0a3.10 3.10 0 1 0 -6.20 0zM639.4 358.6a3.10 3.10 0 1 0 6.20 0a3.10 3.10 0 1 0 -6.20 0zM645.8 358.1a3.10 3.10 0 1 0 6.20 0a3.10 3.10 0 1 0 -6.20 0zM651.5 358.6a3.10 3.10 0 1 0 6.20 0a3.10 3.10 0 1 0 -6.20 0zM652.8 358.0a3.10 3.10 0 1 0 6.20 0a3.10 3.10 0 1 0 -6.20 0zM643.1 355.6a3.10 3.10 0 1 0 6.20 0a3.10 3.10 0 1 0 -6.20 0zM646.4 355.3a3.10 3.10 0 1 0 6.20 0a3.10 3.10 0 1 0 -6.20 0zM650.3 355.8a3.10 3.10 0 1 0 6.20 0a3.10 3.10 0 1 0 -6.20 0zM654.7 355.6a3.10 3.10 0 1 0 6.20 0a3.10 3.10 0 1 0 -6.20 0zM645.9 354.3a3.10 3.10 0 1 0 6.20 0a3.10 3.10 0 1 0 -6.20 0zM648.7 354.9a3.10 3.10 0 1 0 6.20 0a3.10 3.10 0 1 0 -6.20 0zM653.8 355.0a3.10 3.10 0 1 0 6.20 0a3.10 3.10 0 1 0 -6.20 0zM658.8 354.7a3.10 3.10 0 1 0 6.20 0a3.10 3.10 0 1 0 -6.20 0zM644.1 352.6a3.10 3.10 0 1 0 6.20 0a3.10 3.10 0 1 0 -6.20 0zM651.7 351.7a3.10 3.10 0 1 0 6.20 0a3.10 3.10 0 1 0 -6.20 0zM657.0 351.9a3.10 3.10 0 1 0 6.20 0a3.10 3.10 0 1 0 -6.20 0zM659.5 351.9a3.10 3.10 0 1 0 6.20 0a3.10 3.10 0 1 0 -6.20 0zM647.9 350.8a3.10 3.10 0 1 0 6.20 0a3.10 3.10 0 1 0 -6.20 0zM651.1 351.3a3.10 3.10 0 1 0 6.20 0a3.10 3.10 0 1 0 -6.20 0zM658.8 350.6a3.10 3.10 0 1 0 6.20 0a3.10 3.10 0 1 0 -6.20 0zM649.5 348.6a3.10 3.10 0 1 0 6.20 0a3.10 3.10 0 1 0 -6.20 0zM653.1 349.0a3.10 3.10 0 1 0 6.20 0a3.10 3.10 0 1 0 -6.20 0zM659.8 348.5a3.10 3.10 0 1 0 6.20 0a3.10 3.10 0 1 0 -6.20 0zM651.0 346.7a3.10 3.10 0 1 0 6.20 0a3.10 3.10 0 1 0 -6.20 0zM652.4 346.6a3.10 3.10 0 1 0 6.20 0a3.10 3.10 0 1 0 -6.20 0zM657.4 346.5a3.10 3.10 0 1 0 6.20 0a3.10 3.10 0 1 0 -6.20 0zM652.1 345.0a3.10 3.10 0 1 0 6.20 0a3.10 3.10 0 1 0 -6.20 0zM657.1 345.6a3.10 3.10 0 1 0 6.20 0a3.10 3.10 0 1 0 -6.20 0zM657.8 346.0a3.10 3.10 0 1 0 6.20 0a3.10 3.10 0 1 0 -6.20 0zM655.2 342.7a3.10 3.10 0 1 0 6.20 0a3.10 3.10 0 1 0 -6.20 0zM659.5 343.3a3.10 3.10 0 1 0 6.20 0a3.10 3.10 0 1 0 -6.20 0zM662.1 344.2a3.10 3.10 0 1 0 6.20 0a3.10 3.10 0 1 0 -6.20 0zM654.4 341.6a3.10 3.10 0 1 0 6.20 0a3.10 3.10 0 1 0 -6.20 0zM662.3 342.0a3.10 3.10 0 1 0 6.20 0a3.10 3.10 0 1 0 -6.20 0zM664.8 342.4a3.10 3.10 0 1 0 6.20 0a3.10 3.10 0 1 0 -6.20 0zM659.5 340.0a3.10 3.10 0 1 0 6.20 0a3.10 3.10 0 1 0 -6.20 0zM660.9 340.0a3.10 3.10 0 1 0 6.20 0a3.10 3.10 0 1 0 -6.20 0zM667.4 339.3a3.10 3.10 0 1 0 6.20 0a3.10 3.10 0 1 0 -6.20 0zM658.0 338.0a3.10 3.10 0 1 0 6.20 0a3.10 3.10 0 1 0 -6.20 0zM663.4 337.9a3.10 3.10 0 1 0 6.20 0a3.10 3.10 0 1 0 -6.20 0zM671.2 337.9a3.10 3.10 0 1 0 6.20 0a3.10 3.10 0 1 0 -6.20 0zM661.4 336.3a3.10 3.10 0 1 0 6.20 0a3.10 3.10 0 1 0 -6.20 0zM667.4 336.6a3.10 3.10 0 1 0 6.20 0a3.10 3.10 0 1 0 -6.20 0zM673.2 337.0a3.10 3.10 0 1 0 6.20 0a3.10 3.10 0 1 0 -6.20 0zM667.2 334.8a3.10 3.10 0 1 0 6.20 0a3.10 3.10 0 1 0 -6.20 0zM668.8 333.8a3.10 3.10 0 1 0 6.20 0a3.10 3.10 0 1 0 -6.20 0zM677.5 334.9a3.10 3.10 0 1 0 6.20 0a3.10 3.10 0 1 0 -6.20 0zM667.4 332.4a3.10 3.10 0 1 0 6.20 0a3.10 3.10 0 1 0 -6.20 0zM670.7 332.9a3.10 3.10 0 1 0 6.20 0a3.10 3.10 0 1 0 -6.20 0zM677.4 332.7a3.10 3.10 0 1 0 6.20 0a3.10 3.10 0 1 0 -6.20 0zM669.2 331.2a3.10 3.10 0 1 0 6.20 0a3.10 3.10 0 1 0 -6.20 0zM672.0 330.4a3.10 3.10 0 1 0 6.20 0a3.10 3.10 0 1 0 -6.20 0zM681.1 331.5a3.10 3.10 0 1 0 6.20 0a3.10 3.10 0 1 0 -6.20 0zM672.3 328.3a3.10 3.10 0 1 0 6.20 0a3.10 3.10 0 1 0 -6.20 0zM673.2 328.6a3.10 3.10 0 1 0 6.20 0a3.10 3.10 0 1 0 -6.20 0zM679.9 329.2a3.10 3.10 0 1 0 6.20 0a3.10 3.10 0 1 0 -6.20 0zM670.4 327.3a3.10 3.10 0 1 0 6.20 0a3.10 3.10 0 1 0 -6.20 0zM675.0 326.5a3.10 3.10 0 1 0 6.20 0a3.10 3.10 0 1 0 -6.20 0zM682.7 327.3a3.10 3.10 0 1 0 6.20 0a3.10 3.10 0 1 0 -6.20 0zM674.7 325.2a3.10 3.10 0 1 0 6.20 0a3.10 3.10 0 1 0 -6.20 0zM678.7 324.9a3.10 3.10 0 1 0 6.20 0a3.10 3.10 0 1 0 -6.20 0zM682.8 325.8a3.10 3.10 0 1 0 6.20 0a3.10 3.10 0 1 0 -6.20 0zM677.7 322.9a3.10 3.10 0 1 0 6.20 0a3.10 3.10 0 1 0 -6.20 0zM679.1 324.1a3.10 3.10 0 1 0 6.20 0a3.10 3.10 0 1 0 -6.20 0zM686.2 324.0a3.10 3.10 0 1 0 6.20 0a3.10 3.10 0 1 0 -6.20 0zM676.8 321.7a3.10 3.10 0 1 0 6.20 0a3.10 3.10 0 1 0 -6.20 0zM681.8 322.3a3.10 3.10 0 1 0 6.20 0a3.10 3.10 0 1 0 -6.20 0zM687.2 322.0a3.10 3.10 0 1 0 6.20 0a3.10 3.10 0 1 0 -6.20 0zM682.6 319.7a3.10 3.10 0 1 0 6.20 0a3.10 3.10 0 1 0 -6.20 0zM685.3 320.4a3.10 3.10 0 1 0 6.20 0a3.10 3.10 0 1 0 -6.20 0zM692.1 319.9a3.10 3.10 0 1 0 6.20 0a3.10 3.10 0 1 0 -6.20 0zM681.6 317.6a3.10 3.10 0 1 0 6.20 0a3.10 3.10 0 1 0 -6.20 0zM689.1 317.5a3.10 3.10 0 1 0 6.20 0a3.10 3.10 0 1 0 -6.20 0zM690.1 318.3a3.10 3.10 0 1 0 6.20 0a3.10 3.10 0 1 0 -6.20 0z"/></g>
<defs><clipPath id="pc"><rect x="139.5" y="79" width="810" height="809.5"/></clipPath></defs>
<g id="fits" clip-path="url(#pc)">
<line x1="149.6" y1="888" x2="914" y2="79.5" stroke="#000" stroke-width="3.2"/>
<line x1="141.2" y1="888" x2="919" y2="79.5" stroke="#f41e1e" stroke-width="3.6"/>
</g>
<!-- axes -->
<g fill="none">
<line x1="139.5" y1="77.5" x2="139.5" y2="889.5" stroke="#555" stroke-width="3"/>
<line x1="138" y1="79" x2="951" y2="79" stroke="#444" stroke-width="3"/>
<line x1="950" y1="77.5" x2="950" y2="889.5" stroke="#555" stroke-width="3"/>
<line x1="138" y1="888.4" x2="951" y2="888.4" stroke="#111" stroke-width="2.2"/>
</g>
<!-- ticks -->
<g stroke="#5e5e5e" stroke-width="3.2">
<path d="M257 887V878.5M395.7 887V878.5M534.4 887V878.5M673.1 887V878.5M811.8 887V878.5"/>
<path d="M257 80.5V89M395.7 80.5V89M534.4 80.5V89M673.1 80.5V89M811.8 80.5V89"/>
</g>
<g stroke="#3a3a3a" stroke-width="2.4">
<path d="M141 770.5H149M141 632.25H149M141 494H149M141 355.75H149M141 217.5H149"/>
<path d="M948.5 770.5H940.2M948.5 632.25H940.2M948.5 494H940.2M948.5 355.75H940.2M948.5 217.5H940.2"/>
</g>
<!-- tick labels -->
<g font-size="33.5" fill="#363636" text-anchor="end">
<text transform="translate(135.5 91.5) scale(1 1.05)">340</text>
<text transform="translate(135.5 229.7) scale(1 1.05)">320</text>
<text transform="translate(135.5 368.0) scale(1 1.05)">300</text>
<text transform="translate(135.5 506.2) scale(1 1.05)">280</text>
<text transform="translate(135.5 644.5) scale(1 1.05)">260</text>
<text transform="translate(135.5 782.7) scale(1 1.05)">240</text>
</g>
<g font-size="33.5" fill="#363636" text-anchor="middle">
<text transform="translate(256.6 924.2) scale(1 1.05)">240</text>
<text transform="translate(395.3 924.2) scale(1 1.05)">260</text>
<text transform="translate(534.0 924.2) scale(1 1.05)">280</text>
<text transform="translate(672.7 924.2) scale(1 1.05)">300</text>
<text transform="translate(811.4 924.2) scale(1 1.05)">320</text>
<text transform="translate(950.1 924.2) scale(1 1.05)">340</text>
</g>
<!-- axis labels -->
<g font-size="33.3" fill="#363636" transform="translate(0 955.8) scale(1 1.05)">
<text x="351.8" y="0">Terra-MODIS LST</text>
<text x="636.3" y="0" font-style="italic">T</text>
<text transform="translate(653.6 15.9) scale(1.065 0.86)" font-size="29.5" font-style="italic">s</text>
<text x="675.2" y="0">(K)</text>
</g>
<g font-size="33.3" fill="#363636" transform="translate(52.5 0) rotate(-90) scale(1 1.05)">
<text x="-660.5" y="0">GOES-13 HRTP</text>
<text x="-402.7" y="0" font-style="italic">T</text>
<text transform="translate(-385.6 16.5) scale(1.065 0.86)" font-size="29.5" font-style="italic">s</text>
<text x="-363.5" y="0">(K)</text>
</g>
<!-- stats text -->
<g font-size="42" fill="#000" stroke="#000" stroke-width="0.5">
<text x="177.1" y="151.5" textLength="113.9" lengthAdjust="spacingAndGlyphs">Slope:</text>
<text x="301.3" y="151.5" textLength="102.7" lengthAdjust="spacingAndGlyphs">1.056</text>
<text x="177.5" y="203" textLength="123.3" lengthAdjust="spacingAndGlyphs">Offset:</text>
<text x="309.4" y="203" textLength="152.8" lengthAdjust="spacingAndGlyphs">-3.762 K</text>
<text x="179" y="260.6" textLength="211" lengthAdjust="spacingAndGlyphs">Force Slope</text>
<text x="402" y="260.6" textLength="141" lengthAdjust="spacingAndGlyphs">[180 K]:</text>
<text x="551" y="260.6" textLength="105" lengthAdjust="spacingAndGlyphs">1.038</text>
<text x="178.3" y="312.2" textLength="124" lengthAdjust="spacingAndGlyphs">RMSD:</text>
<text x="312.6" y="312.2" textLength="137" lengthAdjust="spacingAndGlyphs">3.433 K</text>
<text x="178.2" y="369.5" textLength="85.9" lengthAdjust="spacingAndGlyphs">Bias:</text>
<text x="274" y="369.5" textLength="103.2" lengthAdjust="spacingAndGlyphs">2.891</text>
<text x="177.9" y="422.8" textLength="102.2" lengthAdjust="spacingAndGlyphs">Num:</text>
<text x="289.2" y="422.8" textLength="68.8" lengthAdjust="spacingAndGlyphs">414</text>
</g>
<!-- legend -->
<circle cx="679" cy="778" r="3.3" fill="#000"/>
<line x1="664.6" y1="819.9" x2="693.6" y2="819.9" stroke="#383838" stroke-width="3" stroke-linecap="round"/>
<line x1="664.4" y1="861.5" x2="693.8" y2="861.5" stroke="#f8221a" stroke-width="2.7" stroke-linecap="round"/>
<g font-size="33.5" fill="#363636">
<text x="705" y="790.6">matched values</text>
<text x="705" y="833.2">linear fit</text>
<text x="705" y="875.2">force fit [180 K]</text>
</g>
<!-- panel label -->
<g fill="none" stroke="#000" stroke-width="4.6">
<path d="M53.5 946V971.6"/>
<path d="M33.3 945C36.3 942.2 40 941.3 44 941.3C50 941.3 53.5 943.8 53.5 949.5"/>
<path d="M51.5 954H42C36 954 33.3 957.5 33.3 961.8C33.3 966.5 36.5 969.2 41 969.2C45.5 969.2 49 967.5 52 964.5"/>
</g>
<path d="M66.3 923.3L72.3 923.3Q87.3 952.5 72.3 981.8L66.3 981.8Q80.1 952.5 66.3 923.3Z" fill="#000"/>
</svg>
</body></html>
